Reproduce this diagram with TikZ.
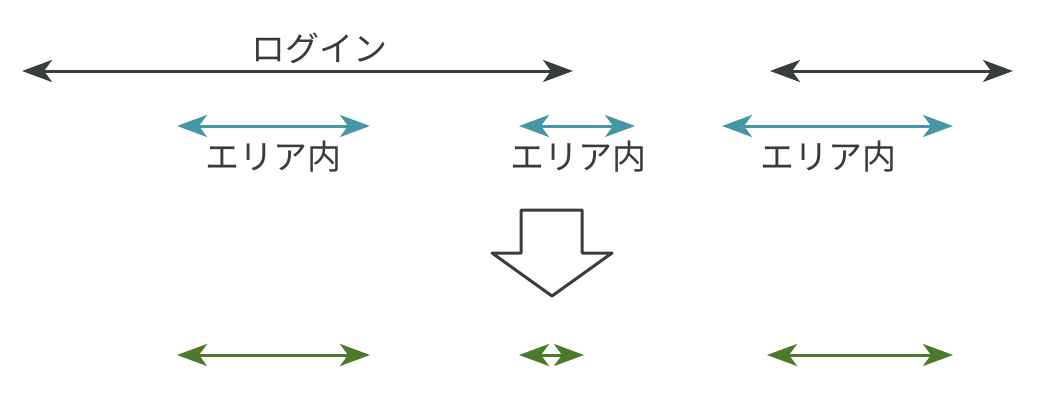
\documentclass[tikz,border=0pt]{standalone}
\usepackage{fontspec}
\newfontfamily\jpfont{Noto Sans CJK JP}
\usetikzlibrary{arrows.meta}
\definecolor{dark}{HTML}{383D3D}
\definecolor{teal2}{HTML}{4597A5}
\definecolor{green2}{HTML}{4A7A2A}
\definecolor{txt}{HTML}{3A3A3A}
\tikzset{
  span/.style={line width=3pt,{Stealth[length=30pt,width=22pt,inset=8pt]}-{Stealth[length=30pt,width=22pt,inset=8pt]}},
  darkspan/.style={span,draw=dark,fill=dark},
  tealspan/.style={span,draw=teal2,fill=teal2},
  greenspan/.style={span,draw=green2,fill=green2},
  lbl/.style={font=\jpfont\fontsize{34}{38}\selectfont,text=txt,inner sep=0pt},
}
\begin{document}
\begin{tikzpicture}[x=1pt,y=-1pt]
\useasboundingbox (0,0) rectangle (1046,400);
% top black arrows
\coordinate (a1) at (22,71); \coordinate (b1) at (573,71);
\coordinate (a2) at (770,71); \coordinate (b2) at (1013,71);
\draw[darkspan] (a1) -- (b1);
\draw[darkspan] (a2) -- (b2);
\node[lbl] (login) at (319,48) {ログイン};
% teal arrows
\coordinate (t1a) at (177,126); \coordinate (t1b) at (370,126);
\coordinate (t2a) at (519,126); \coordinate (t2b) at (635,126);
\coordinate (t3a) at (722,126); \coordinate (t3b) at (953,126);
\draw[tealspan] (t1a) -- (t1b);
\draw[tealspan] (t2a) -- (t2b);
\draw[tealspan] (t3a) -- (t3b);
\node[lbl] (e1) at (273,157) {エリア内};
\node[lbl] (e2) at (578,157) {エリア内};
\node[lbl] (e3) at (828,157) {エリア内};
% big down arrow
\draw[dark,line width=3pt,line join=round,fill=white]
  (521,210) -- (582,210) -- (582,253) -- (612,253) -- (552,296) -- (492,253) -- (521,253) -- cycle;
% green arrows
\coordinate (g1a) at (177,355); \coordinate (g1b) at (370,355);
\coordinate (g2a) at (519,355); \coordinate (g2b) at (584,355);
\coordinate (g3a) at (767,355); \coordinate (g3b) at (953,355);
\draw[greenspan] (g1a) -- (g1b);
\draw[greenspan] (g2a) -- (g2b);
\draw[greenspan] (g3a) -- (g3b);
\end{tikzpicture}
\end{document}
